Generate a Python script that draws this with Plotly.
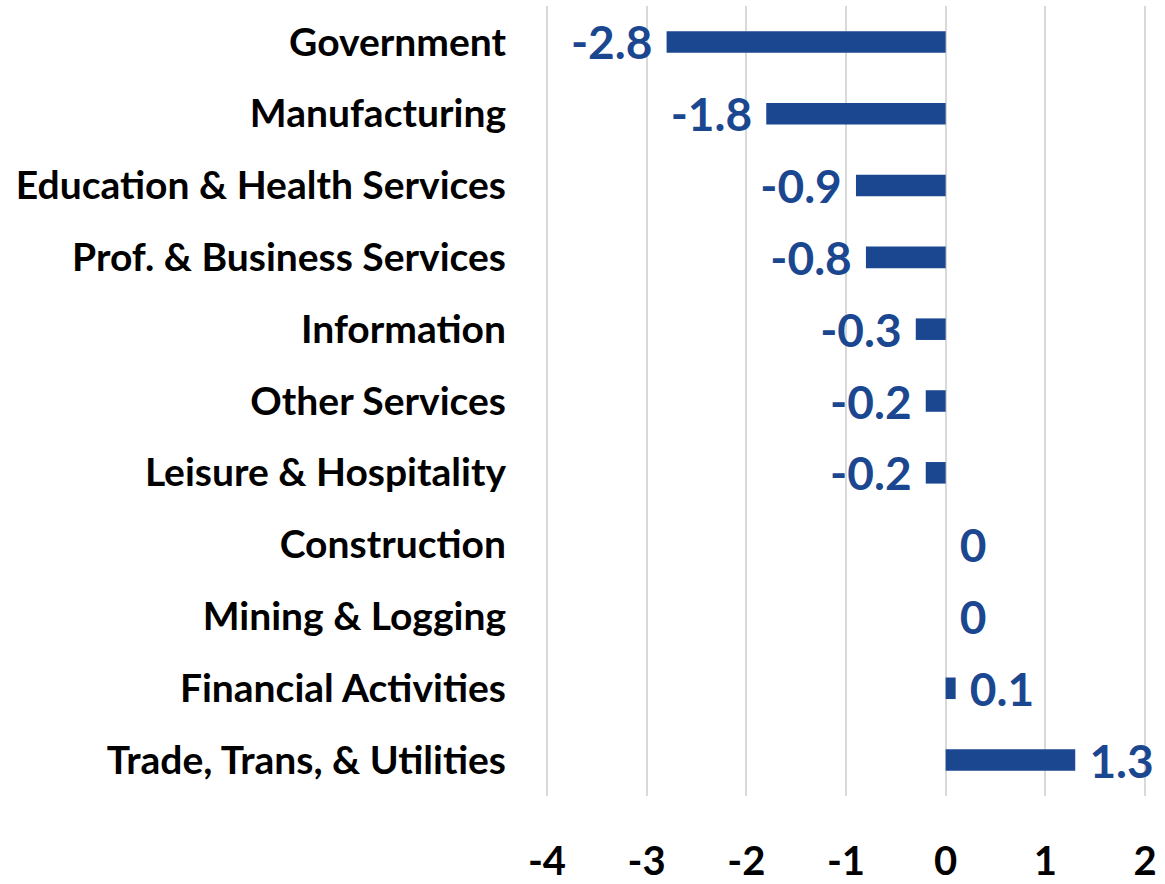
import plotly.graph_objects as go

categories = ["Government", "Manufacturing", "Education & Health Services",
              "Prof. & Business Services", "Information", "Other Services",
              "Leisure & Hospitality", "Construction", "Mining & Logging",
              "Financial Activities", "Trade, Trans, & Utilities"]
values = [-2.8, -1.8, -0.9, -0.8, -0.3, -0.2, -0.2, 0, 0, 0.1, 1.3]
x_ticks = [-4, -3, -2, -1, 0, 1, 2]

BLUE = "#1B4790"
FONT = "Lato"
PAD = "\u00a0"

labels = [(f"{v:g}{PAD}" if v < 0 else f"{PAD}{v:g}") for v in values]

fig = go.Figure(go.Bar(
    x=values, y=categories, orientation="h",
    marker=dict(color=BLUE, line=dict(width=0)),
    width=0.3,
    text=labels,
    textposition="outside",
    textfont=dict(family=FONT, size=46, color=BLUE, weight=700),
    constraintext="none",
    cliponaxis=False,
    hoverinfo="skip",
))

fig.update_layout(
    width=1165, height=884,
    margin=dict(l=544, r=17, t=6, b=88, autoexpand=False),
    plot_bgcolor="white", paper_bgcolor="white",
    showlegend=False,
)
fig.update_xaxes(
    range=[-4.03, 2.03], tickvals=x_ticks, ticktext=[str(t) for t in x_ticks],
    showgrid=True, gridcolor="#D9D9D9", gridwidth=2,
    zeroline=False, showline=False, automargin=False,
    tickfont=dict(family=FONT, size=40, color="black", weight=700),
    ticklabelstandoff=38,
)
fig.update_yaxes(
    autorange="reversed", showgrid=False, zeroline=False, showline=False,
    automargin=False,
    tickfont=dict(family=FONT, size=39, color="black", weight=700),
    ticklabelstandoff=37,
)

fig.write_html("out.html", config={"displayModeBar": False},
               post_script="document.body.style.margin='0px';")
